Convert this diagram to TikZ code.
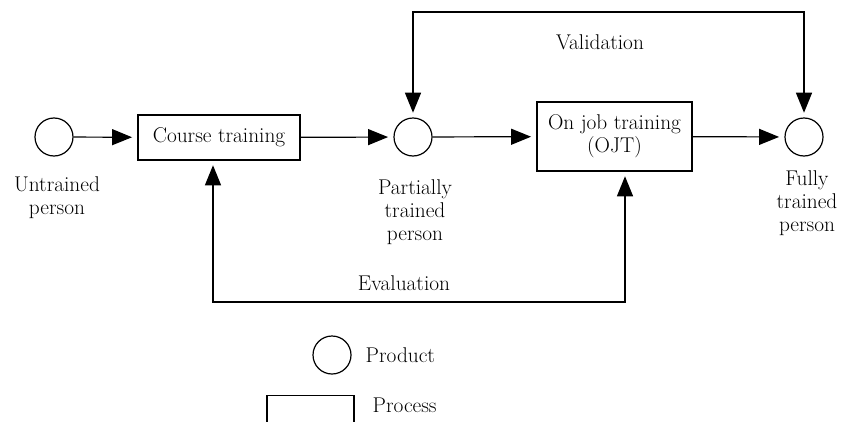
\documentclass[tikz,border=0pt]{standalone}
\usepackage{tikz}
\usetikzlibrary{arrows.meta, positioning, calc}
\newcommand\lblfont{\fontsize{16}{17.25}\selectfont}

\begin{document}
\begin{tikzpicture}[x=0.75pt, y=-0.75pt,
  prod/.style={circle, draw, line width=0.9pt, minimum size=28.5pt, inner sep=0pt},
  proc/.style={rectangle, draw, line width=0.9pt, align=center, font=\lblfont},
  lbl/.style={align=center, font=\lblfont},
  arr/.style={-{Triangle[length=15pt, width=12pt]}, line width=0.9pt, shorten >=4pt},
  fbk/.style={{Triangle[length=15pt, width=12pt]}-{Triangle[length=15pt, width=12pt]},
              line width=0.9pt, shorten >=3.5pt, shorten <=3.5pt}
]
\useasboundingbox (0,0) rectangle (845,421);
\clip (0,0) rectangle (845,421);

% products and processes
\node[prod] (un) at (54,137) {};
\node[proc, minimum width=121.5pt, minimum height=33.75pt] (ct) at (219,137.5) {Course training};
\node[prod] (pt) at (413,137) {};
\node[proc, minimum width=116.25pt, minimum height=51.75pt] (ojt) at (614.5,136.5)
  {On job training\\(OJT)};
\node[prod] (fl) at (804,137) {};

\node[lbl] (unl) at (57,197.5) {Untrained\\person};
\node[lbl] (ptl) at (415,212) {Partially\\trained\\person};
\node[lbl] (fll) at (807,203.5) {Fully\\trained\\person};

\draw[arr] (un) -- (ct);
\draw[arr] (ct) -- (pt);
\draw[arr] (pt) -- (ojt);
\draw[arr] (ojt) -- (fl);

% feedback loops
\coordinate (v1) at (413,12);
\coordinate (v2) at (804,12);
\draw[fbk] (pt.north) -- (v1) -- (v2) -- (fl.north);
\node[lbl] (val) at (600,42) {Validation};

\coordinate (e1) at (213,302);
\coordinate (e2) at (625,302);
\draw[fbk] (ct.south -| e1) -- (e1) -- (e2) -- (ojt.south -| e2);
\node[lbl] (evl) at (404,283) {Evaluation};

% legend
\node[prod] (lgprod) at (332,355) {};
\node[lbl, anchor=west] (lgprodl) at (361,355) {Product};
\node[proc, minimum width=65.25pt, minimum height=33.75pt, anchor=north] (lgproc) at (310.5,395) {};
\node[lbl, anchor=west] (lgprocl) at (368,405) {Process};
\end{tikzpicture}
\end{document}
